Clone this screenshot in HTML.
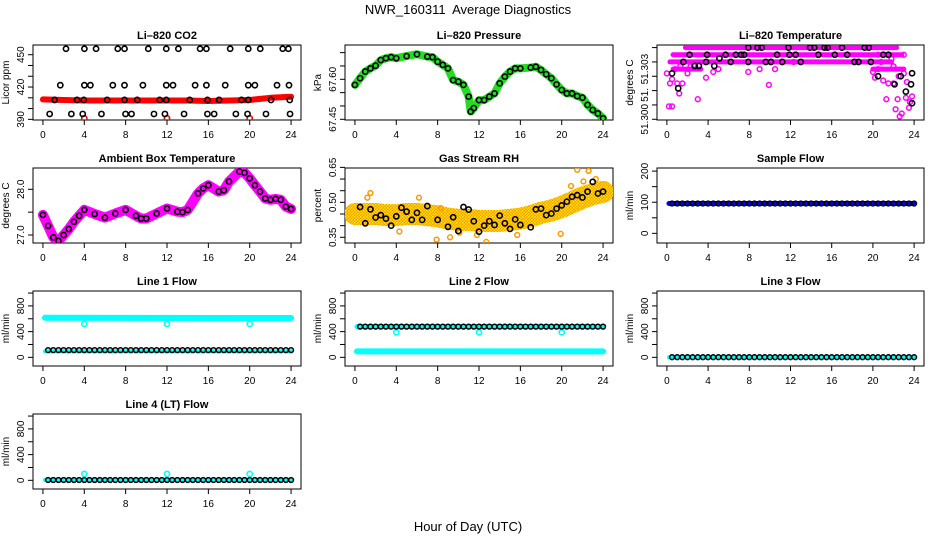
<!DOCTYPE html>
<html><head><meta charset="utf-8"><title>NWR_160311 Average Diagnostics</title>
<style>html,body{margin:0;padding:0;background:#fff}svg{display:block}text{font-family:"Liberation Sans",sans-serif}</style>
</head><body>
<svg id="chart" width="936" height="540" viewBox="0 0 936 540" xmlns="http://www.w3.org/2000/svg">
<defs>
<pattern id="rhPat" width="3" height="3" patternUnits="userSpaceOnUse"><rect width="3" height="3" fill="#ff9900"/><rect x="0" y="0" width="1.5" height="1.5" fill="#ffee00"/><rect x="1.5" y="1.5" width="1.5" height="1.5" fill="#ffdd00"/></pattern>
</defs>
<text x="468" y="14" text-anchor="middle" font-size="13" xml:space="preserve">NWR_160311  Average Diagnostics</text>
<text x="468" y="531" text-anchor="middle" font-size="13">Hour of Day (UTC)</text>
</svg>
<script>
// ---------- data ----------
const xTicks=[0,4,8,12,16,20,24];
// CO2
const co2H=[2.23,4.01,5.14,7.24,7.89,10.19,11.93,13.10,15.20,15.81,18.11,19.86,21.02,23.19,23.74,
1.68,4.01,4.59,6.76,7.89,9.67,11.93,12.58,14.72,15.81,17.63,19.86,20.50,22.64,23.80,
1.13,3.30,3.95,6.21,7.89,9.12,11.29,11.93,14.20,15.91,17.04,19.21,19.86,22.06,23.87,
0.65,2.75,3.85,5.66,7.99,8.57,10.74,11.80,13.65,15.91,16.56,18.66,19.79,21.57,23.90];
const co2V=[455.5,455.5,455.5,455.5,455.5,455.5,455.5,455.5,455.5,455.5,455.5,455.5,455.5,455.5,455.5,
421.7,421.7,421.7,421.7,421.7,421.7,421.7,421.7,421.7,421.7,421.7,421.7,421.7,421.7,421.7,
408,408,408,408,408,408,408,408,408,408,408,408,408,408,408,
395,395,395,395,395,395,395,395,395,395,395,395,395,395,395];
const co2BandH=[0,2,4,6,8,10,12,14,16,18,20,21,22,23,24];
const co2BandV=[408.5,408,407.5,407.5,407.5,407.5,407.5,407.5,407,407.5,408,409,410,410.5,411];
const co2RedH=[4,12,20];
const co2RedV=[391,391,391];
// Pressure
const presH=[0,0.5,1,1.5,2,2.5,3,3.5,4,5,6,7,7.5,8,8.5,9,9.5,10,10.5,11,11.2,11.5,12,12.5,13,13.5,14,14.5,15,15.5,16,17,17.5,18,18.5,19,19.5,20,20.5,21,21.5,22,22.5,23,23.5,24];
const presV=[67.579,67.604,67.629,67.641,67.651,67.672,67.679,67.683,67.679,67.687,67.694,67.685,67.683,67.666,67.654,67.641,67.597,67.591,67.579,67.535,67.479,67.492,67.522,67.522,67.535,67.547,67.585,67.61,67.629,67.641,67.641,67.644,67.647,67.635,67.619,67.604,67.581,67.56,67.547,67.547,67.537,67.531,67.504,67.485,67.472,67.454];
// Li-820 temperature
const tempH=[0.5,1.1,1.6,2.2,2.7,3.1,3.8,3.9,4.6,5.1,5.7,6.2,6.7,7.2,7.5,7.9,7.9,8.8,9.2,9.6,10.1,10.7,11.2,11.8,11.9,12.5,13,13.9,14.3,14.7,15.3,15.6,16.3,17,17.5,18.2,18.6,19.2,19.6,19.8,20.5,21,21.5,22.1,22.7,23.2,23.7,23.8,23.8];
const tempV=[51.3032,51.30216,51.304,51.3045,51.30372,51.30372,51.304,51.3045,51.30372,51.30425,51.3045,51.304,51.3045,51.3045,51.3045,51.305,51.304,51.305,51.305,51.304,51.304,51.3045,51.304,51.305,51.3045,51.3045,51.304,51.305,51.305,51.3045,51.305,51.305,51.3045,51.305,51.3045,51.304,51.304,51.305,51.305,51.304,51.303,51.3045,51.3045,51.30244,51.303,51.30193,51.30244,51.30321,51.30112];
const tempBandLevel=[51.305,51.3045,51.304,51.3035,51.3035];
const tempBandStart=[1.8,0.6,0.3,0.6,20];
const tempBandEnd=[22.3,22.8,21.8,3.3,23];
const tempMagH=[0,0.2,0.5,0.3,0.5,0.8,1,1.2,1.3,1.5,2,2.3,3,3.8,4.5,5,7.9,9,9.9,10.5,12.3,20,20.2,20.5,21,21.3,21.5,22,22.2,22.4,22.6,22.8,23,23.2,23.3,23.5,23.6,23.8,22.5,22,21.8,20.8,23,20.5];
const tempMagV=[51.3032,51.3009,51.3009,51.3025,51.3028,51.3035,51.3025,51.3018,51.3037,51.3025,51.3032,51.3037,51.3014,51.3029,51.3033,51.3035,51.3033,51.3035,51.3024,51.3035,51.304,51.3033,51.3029,51.3035,51.3027,51.3014,51.3025,51.3025,51.3007,51.3014,51.3002,51.3004,51.3032,51.3015,51.3026,51.3008,51.3012,51.3016,51.303,51.3037,51.3042,51.304,51.3045,51.3045];
// Ambient box temperature
const ambH=[0,0.5,1,1.5,2,2.5,3,3.5,4,5,6,7,8,9,9.5,10,11,12,13,13.5,14,15,15.5,16,17,17.5,18,19,19.5,20,20.5,21,21.5,22,22.5,23,23.5,24];
const ambV=[27.44,27.2,26.95,26.87,27.0,27.13,27.29,27.42,27.55,27.46,27.38,27.47,27.55,27.42,27.36,27.36,27.47,27.58,27.51,27.5,27.55,27.91,28.02,28.09,27.95,27.98,28.17,28.39,28.36,28.24,28.09,27.95,27.8,27.77,27.79,27.77,27.62,27.57];
// Gas stream RH
const rhH=[0.5,1,1.5,2,2.5,3,3.5,4,4.5,5,5.5,6,6.5,7,8,9,9.5,10,10.5,11,11.5,12,12.5,13,13.5,14,14.5,15,15.5,16,17,17.5,18,18.5,19,19.5,20,20.5,21,21.5,22,22.5,23,23.5,24];
const rhV=[0.48,0.41,0.47,0.435,0.445,0.43,0.40,0.44,0.477,0.46,0.425,0.455,0.425,0.484,0.425,0.395,0.436,0.377,0.48,0.469,0.419,0.374,0.4,0.419,0.403,0.443,0.41,0.386,0.427,0.403,0.393,0.47,0.473,0.445,0.452,0.473,0.487,0.503,0.524,0.531,0.521,0.546,0.588,0.538,0.546];
const rhBandH=[0,1,2,3,4,5,6,7,8,9,10,11,12,13,14,15,16,17,18,19,20,21,22,23,24];
const rhBandV=[0.45,0.45,0.45,0.445,0.445,0.45,0.45,0.445,0.44,0.43,0.425,0.425,0.42,0.42,0.42,0.425,0.43,0.44,0.455,0.465,0.48,0.5,0.52,0.535,0.545];
const rhOutH=[1.5,1.2,6.2,8.3,7.9,9.2,10.1,12.7,15.7,19.9,21.5,22.6,23.3,20.9,22.1,4.3,11.8];
const rhOutV=[0.54,0.52,0.52,0.475,0.34,0.35,0.37,0.33,0.36,0.365,0.64,0.635,0.6,0.57,0.59,0.375,0.36];
// Flows (half-hour means, 0.5..24)
const flowH=[0.5,1,1.5,2,2.5,3,3.5,4,4.5,5,5.5,6,6.5,7,7.5,8,8.5,9,9.5,10,10.5,11,11.5,12,12.5,13,13.5,14,14.5,15,15.5,16,16.5,17,17.5,18,18.5,19,19.5,20,20.5,21,21.5,22,22.5,23,23.5,24];
const sampleV=[96,96,96,96,96,96,96,96,96,96,96,96,96,96,96,96,96,96,96,96,96,96,96,96,96,96,96,96,96,96,96,96,96,96,96,96,96,96,96,96,96,96,96,96,96,96,96,96];
const line1V=[112,112,112,112,112,112,112,112,112,112,112,112,112,112,112,112,112,112,112,112,112,112,112,112,112,112,112,112,112,112,112,112,112,112,112,112,112,112,112,112,112,112,112,112,112,112,112,112];
const line2V=[478,478,478,478,478,478,478,478,478,478,478,478,478,478,478,478,478,478,478,478,478,478,478,478,478,478,478,478,478,478,478,478,478,478,478,478,478,478,478,478,478,478,478,478,478,478,478,478];
const line3V=[2,2,2,2,2,2,2,2,2,2,2,2,2,2,2,2,2,2,2,2,2,2,2,2,2,2,2,2,2,2,2,2,2,2,2,2,2,2,2,2,2,2,2,2,2,2,2,2];
const line4V=[5,5,5,5,5,5,5,5,5,5,5,5,5,5,5,5,5,5,5,5,5,5,5,5,5,5,5,5,5,5,5,5,5,5,5,5,5,5,5,5,5,5,5,5,5,5,5,5];
const cyanBandH=[0.2,24];
const sampleBand=[96,96];
const line1Hi=[615,612];const line1Lo=[95,95];
const line2Hi=[478,478];const line2Lo=[92,92];
const line3Band=[2,2];const line4Band=[5,5];
const spikeH=[4,12,20];
const line1Spike=[520,520,520];
const line2Spike=[390,390,390];
const line4Spike=[100,100,100];

// ---------- drawing ----------
const NS="http://www.w3.org/2000/svg";
const svg=document.getElementById('chart');
function mk(tag,attrs,parent){const e=document.createElementNS(NS,tag);for(const k in attrs)e.setAttribute(k,attrs[k]);(parent||svg).appendChild(e);return e;}
const colL=[33,345,657], colW=[268,268,267];
const rowT=[45,168,291,414], H=75;

function panel(name,col,row,title,ytitle,ymin,ymax,ticks,labels){
  const g=mk('g',{});
  
  
  const L=colL[col],W=colW[col],T=rowT[row],B=T+H;
  const sx=h=>L+(h+0.96)/25.92*W;
  const sy=v=>B-(v-ymin)/(ymax-ymin)*H;
  const t=mk('text',{x:L+W/2,y:T-6,'text-anchor':'middle','font-size':'11','font-weight':'bold'},g);
  t.textContent=title;
  
  
  const box=mk('rect',{x:L,y:T,width:W,height:H,fill:'none',stroke:'#000','stroke-width':1},g);
  
  
  const xa=mk('g',{},g);
  
  
  mk('line',{x1:sx(0),x2:sx(24),y1:B,y2:B,stroke:'#000'},xa);
  xTicks.forEach(v=>{mk('line',{x1:sx(v),x2:sx(v),y1:B,y2:B+5,stroke:'#000'},xa);
    const tx=mk('text',{x:sx(v),y:B+18,'text-anchor':'middle','font-size':'10'},xa);tx.textContent=v;});
  const ya=mk('g',{},g);
  
  
  ticks.forEach(v=>{mk('line',{x1:L-5,x2:L,y1:sy(v),y2:sy(v),stroke:'#000'},ya);});
  labels.forEach(p=>{const y=sy(p[0]);const tx=mk('text',{x:L-9,y:y,'text-anchor':'middle','font-size':'10',transform:`rotate(-90 ${L-9} ${y})`},ya);tx.textContent=p[1];});
  const yt=mk('text',{x:L-24,y:T+H/2,'text-anchor':'middle','font-size':'10',transform:`rotate(-90 ${L-24} ${T+H/2})`},g);
  yt.textContent=ytitle;
  
  
  const clipId='c'+name;
  const cp=mk('clipPath',{id:clipId},g);mk('rect',{x:L,y:T,width:W,height:H},cp);
  const dg=mk('g',{'clip-path':`url(#${clipId})`},g);
  return {sx,sy,g:dg};
}
function band(P,hs,vs,color,w,name){
  const pl=mk('polyline',{points:hs.map((h,i)=>P.sx(h)+','+P.sy(vs[i])).join(' '),fill:'none',stroke:color,'stroke-width':w,'stroke-linecap':'round','stroke-linejoin':'round'},P.g);
  
  
}
function pts(P,hs,vs,color,r,sw,name){
  const gg=mk('g',{},P.g);
  
  
  hs.forEach((h,i)=>mk('circle',{cx:P.sx(h),cy:P.sy(vs[i]),r:r,fill:'none',stroke:color,'stroke-width':sw},gg));
}
const range=(a,b,s)=>{const o=[];for(let v=a;v<=b+1e-9;v+=s)o.push(+v.toFixed(6));return o;};

// CO2
let P=panel('co2',0,0,'Li\u2013820 CO2','Licor ppm',389.4,459,range(390,450,10),[[390,'390'],[420,'420'],[450,'450']]);
band(P,co2BandH,co2BandV,'#ff0000',6,'co2-red-band');
pts(P,co2RedH,co2RedV,'#ff0000',2.6,1.6,'co2-red-points');
pts(P,co2H,co2V,'#000',2.6,1.6,'co2-hourly-points');
// Pressure
P=panel('pressure',1,0,'Li\u2013820 Pressure','kPa',67.4474,67.7286,range(67.45,67.70,0.05),[[67.45,'67.45'],[67.60,'67.60']]);
band(P,presH,presV,'#22dd22',8,'pressure-green-band');
pts(P,presH,presV,'#000',2.6,1.6,'pressure-points');
// Temperature
P=panel('li820-temp',2,0,'Li\u2013820 Temperature','degrees C',51.29995,51.30518,range(51.300,51.305,0.001),[[51.300,'51.300'],[51.3017,'51.'],[51.3035,'51.303']]);
tempBandLevel.forEach((lv,i)=>band(P,[tempBandStart[i],tempBandEnd[i]],[lv,lv],'#ff00ff',5,'temp-magenta-row-'+i));
pts(P,tempMagH,tempMagV,'#ff00ff',2.4,1.5,'temp-magenta-points');
pts(P,tempH,tempV,'#000',2.6,1.6,'temp-points');
// Ambient
P=panel('ambient',0,1,'Ambient Box Temperature','degrees C',26.825,28.466,[27.0,27.5,28.0],[[27.0,'27.0'],[28.0,'28.0']]);
band(P,ambH,ambV,'#ff00ff',10,'ambient-magenta-band');
pts(P,ambH,ambV,'#000',2.6,1.6,'ambient-points');
// RH
P=panel('rh',1,1,'Gas Stream RH','percent',0.3255,0.6474,range(0.35,0.65,0.05),[[0.35,'0.35'],[0.50,'0.50'],[0.65,'0.65']]);
band(P,rhBandH,rhBandV,'url(#rhPat)',22,'rh-band');
pts(P,rhOutH,rhOutV,'#ff9900',2.4,1.5,'rh-outliers');
pts(P,rhH,rhV,'#000',2.6,1.6,'rh-points');
// Sample flow
P=panel('sample-flow',2,1,'Sample Flow','ml/min',-31,210,[0,50,100,150,200],[[0,'0'],[100,'100'],[200,'200']]);
band(P,cyanBandH,sampleBand,'#0000ff',5,'sample-blue-band');
pts(P,flowH,sampleV,'#000',2.4,1.5,'sample-points');
const fT=range(0,1000,200), fL=[[0,'0'],[400,'400'],[800,'800']];
// Line 1
P=panel('line1-flow',0,2,'Line 1 Flow','ml/min',-135,1032,fT,fL);
band(P,cyanBandH,line1Hi,'#00ffff',6,'line1-cyan-high');
band(P,cyanBandH,line1Lo,'#00ffff',4,'line1-cyan-low');
pts(P,spikeH,line1Spike,'#00ffff',2.6,1.6,'line1-cyan-spikes');
pts(P,flowH,line1V,'#000',2.4,1.5,'line1-points');
// Line 2
P=panel('line2-flow',1,2,'Line 2 Flow','ml/min',-135,1032,fT,fL);
band(P,cyanBandH,line2Hi,'#00ffff',5,'line2-cyan-high');
band(P,cyanBandH,line2Lo,'#00ffff',6,'line2-cyan-low');
pts(P,spikeH,line2Spike,'#00ffff',2.6,1.6,'line2-cyan-spikes');
pts(P,flowH,line2V,'#000',2.4,1.5,'line2-points');
// Line 3
P=panel('line3-flow',2,2,'Line 3 Flow','ml/min',-135,1032,fT,fL);
band(P,cyanBandH,line3Band,'#00ffff',4,'line3-cyan-band');
pts(P,flowH,line3V,'#000',2.4,1.5,'line3-points');
// Line 4
P=panel('line4-flow',0,3,'Line 4 (LT) Flow','ml/min',-135,1032,fT,fL);
band(P,cyanBandH,line4Band,'#00ffff',4,'line4-cyan-band');
pts(P,spikeH,line4Spike,'#00ffff',2.6,1.6,'line4-cyan-spikes');
pts(P,flowH,line4V,'#000',2.4,1.5,'line4-points');
</script>
</body></html>
